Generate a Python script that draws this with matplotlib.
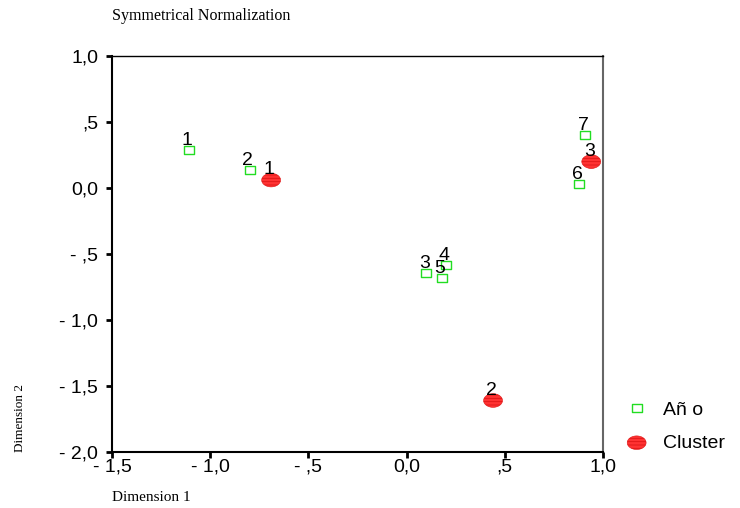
import numpy as np
import matplotlib
matplotlib.use("Agg")
import matplotlib.pyplot as plt
from matplotlib.path import Path

# Coordenadas de las categorías (normalización simétrica)
anio_labels = ["1", "2", "3", "4", "5", "6", "7"]
anio_x = [-1.11, -0.80, 0.10, 0.20, 0.18, 0.88, 0.91]
anio_y = [0.29, 0.14, -0.64, -0.58, -0.68, 0.03, 0.40]

cluster_labels = ["1", "2", "3"]
cluster_x = [-0.69, 0.44, 0.94]
cluster_y = [0.06, -1.61, 0.20]

x_ticks = [-1.5, -1.0, -0.5, 0.0, 0.5, 1.0]
x_ticklabels = ["- 1,5", "- 1,0", "- ,5", "0,0", ",5", "1,0"]
y_ticks = [1.0, 0.5, 0.0, -0.5, -1.0, -1.5, -2.0]
y_ticklabels = ["1,0", ",5", "0,0", "- ,5", "- 1,0", "- 1,5", "- 2,0"]

plt.rcParams['font.family'] = ['Liberation Sans', 'DejaVu Sans']
plt.rcParams['hatch.linewidth'] = 0.6

# marcadores: rectángulo abierto y elipse
rect = Path([(-1, -0.7), (1, -0.7), (1, 0.7), (-1, 0.7), (-1, -0.7)],
            [Path.MOVETO, Path.LINETO, Path.LINETO, Path.LINETO, Path.CLOSEPOLY])
t = np.linspace(0, 2 * np.pi, 60)
ellipse = Path(np.column_stack([np.cos(t), 0.72 * np.sin(t)]), closed=True)

fig = plt.figure(figsize=(7.4, 5.08), dpi=100)
ax = fig.add_axes([0.1514, 0.1102, 0.6635, 0.7795])

ax.plot(anio_x, anio_y, linestyle='none', marker=rect, markersize=7.5,
        markerfacecolor='none', markeredgecolor='#22dd22', markeredgewidth=1.0,
        label='Añ o')
ax.scatter(cluster_x, cluster_y, marker=ellipse, s=185,
           facecolor='#ff3333', edgecolor='#dd1515', linewidth=0.4,
           hatch='-----', label='Cluster', zorder=3)

for lab, x, y in zip(anio_labels, anio_x, anio_y):
    ax.annotate(lab, (x, y), xytext=(-2, 5), textcoords='offset pixels',
                ha='center', va='baseline', fontsize=14)
for lab, x, y in zip(cluster_labels, cluster_x, cluster_y):
    ax.annotate(lab, (x, y), xytext=(-2, 6), textcoords='offset pixels',
                ha='center', va='baseline', fontsize=14)

ax.set_xlim(-1.5, 1.0)
ax.set_ylim(-2.0, 1.0)
ax.set_xticks(x_ticks)
ax.set_xticklabels(x_ticklabels, fontsize=14)
ax.set_yticks(y_ticks)
ax.set_yticklabels(y_ticklabels, fontsize=14)
ax.tick_params(direction='out', length=4, width=2)
ax.tick_params(axis='x', pad=1)
ax.tick_params(axis='y', pad=6)

ax.spines['left'].set_linewidth(1.5)
ax.spines['bottom'].set_linewidth(1.5)
ax.spines['top'].set_linewidth(1.0)
ax.spines['right'].set_linewidth(1.5)
ax.spines['right'].set_color('#666666')

fig.legend(loc='upper left', bbox_to_anchor=(0.817, 0.245), frameon=False,
           fontsize=14, handletextpad=0.6, labelspacing=0.8, handlelength=1.5)

fig.text(0.1514, 0.968, "Symmetrical Normalization", family='Liberation Serif', fontsize=11.5,
         ha='left', va='center')
fig.text(0.1514, 0.02, "Dimension 1", family='Liberation Serif', fontsize=11,
         ha='left', va='center')
fig.text(0.027, 0.177, "Dimension 2", family='Liberation Serif', fontsize=9.5,
         rotation=90, ha='center', va='center')

fig.savefig("out.png", dpi=100)
